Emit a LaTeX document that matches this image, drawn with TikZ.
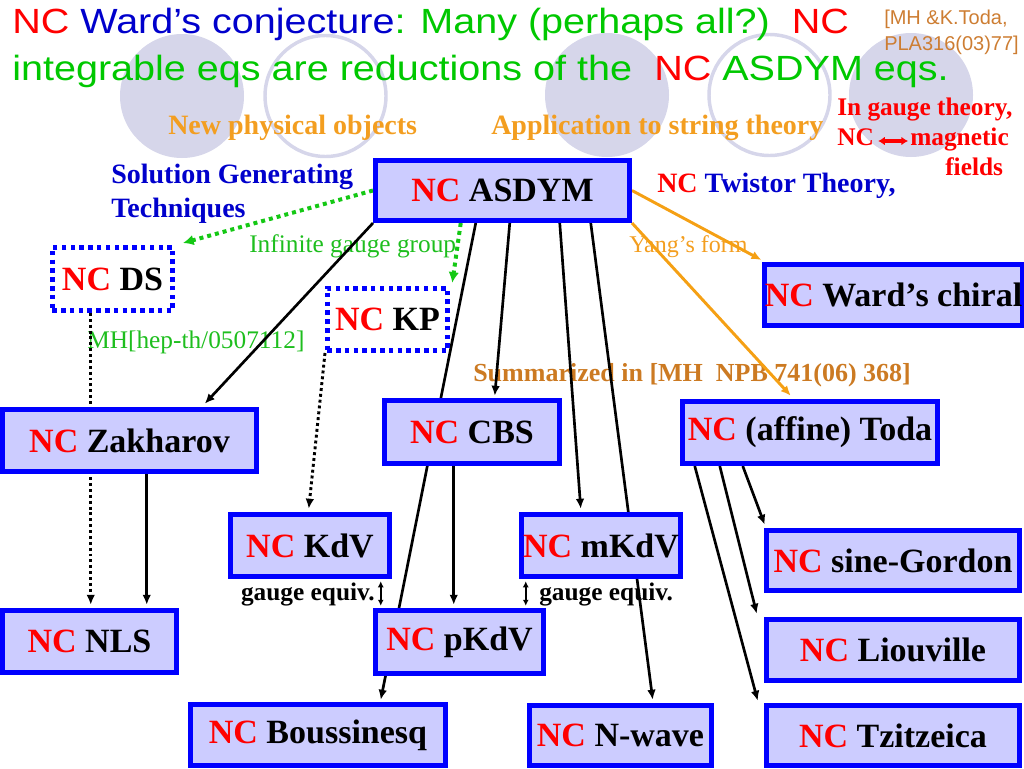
\documentclass[tikz,border=0pt]{standalone}
\usepackage{fontspec}
\setmainfont{Liberation Serif}
\newfontfamily\titlefont{Liberation Sans}[FakeStretch=1.13]
\newfontfamily\citefont{Liberation Sans}
\usetikzlibrary{arrows.meta,calc}
\definecolor{ncred}{RGB}{255,0,0}
\definecolor{tblue}{RGB}{0,0,204}
\definecolor{tgreen}{RGB}{0,200,0}
\definecolor{lgreen}{RGB}{30,190,30}
\definecolor{orangeA}{RGB}{243,158,32}
\definecolor{orangeB}{RGB}{204,122,34}
\definecolor{citec}{RGB}{205,125,50}
\definecolor{boxblue}{RGB}{0,0,255}
\definecolor{boxfill}{RGB}{204,204,255}
\definecolor{circc}{RGB}{214,214,234}
\definecolor{arrorange}{RGB}{245,160,20}
\definecolor{dgreen}{RGB}{20,200,20}
\pgfdeclarelayer{back}
\pgfdeclarelayer{conn}
\pgfsetlayers{back,conn,main}
\newcommand{\NC}{{\color{ncred}NC}}
\begin{document}
\begin{tikzpicture}[x=0.75pt,y=-0.75pt,
  box/.style={draw=boxblue, fill=boxfill, line width=3.4pt, inner sep=0pt,
    font=\fontsize{25.5}{30}\selectfont\bfseries},
  dbox/.style={draw=boxblue, line width=3.4pt, dash pattern=on 3.4pt off 3.2pt, inner sep=0pt,
    font=\fontsize{25.5}{30}\selectfont\bfseries},
  lab/.style={inner sep=0pt, anchor=base west},
  arr/.style={draw=black, line width=2pt, -{Latex[length=7.5pt,width=6.5pt]}},
  dotarr/.style={draw=black, line width=2.2pt, dash pattern=on 2.2pt off 2.2pt, -{Latex[length=7.5pt,width=6.5pt]}},
  grarr/.style={draw=dgreen, line width=3pt, dash pattern=on 3pt off 3pt, -{Latex[length=8pt,width=8pt]}},
  orarr/.style={draw=arrorange, line width=2.2pt, -{Latex[length=7.5pt,width=6.5pt]}},
  gaugearr/.style={draw=black, line width=1.2pt, {Latex[length=4.5pt,width=4.5pt]}-{Latex[length=4.5pt,width=4.5pt]}},
  circfill/.style={fill=circc},
  circline/.style={draw=circc, line width=2.6pt}
]
\useasboundingbox (0,0) rectangle (1024,768);

% ---------- boxes ----------
\node[box, minimum width=190.85pt, minimum height=45.35pt] (asdym) at (502.5,190.5) {\NC\ ASDYM};
\node[dbox, minimum width=90.35pt, minimum height=47.6pt] (ds) at (112.5,279) {\NC\ DS};
\node[dbox, minimum width=90.35pt, minimum height=46.85pt] (kp) at (387.5,319.5) {\NC\ KP};
\node[box, minimum width=189.35pt, minimum height=46.1pt] (ward) at (893.5,295) {\NC\ Ward’s chiral};
\node[box, minimum width=190.85pt, minimum height=46.85pt] (zak) at (129.5,440.5) {\NC\ Zakharov};
\node[box, minimum width=131.6pt, minimum height=47.6pt] (cbs) at (472,432) {\NC\ CBS};
\node[box, minimum width=191.6pt, minimum height=46.85pt] (toda) at (810,432.5) {\NC\ (affine) Toda};
\node[box, minimum width=119.6pt, minimum height=46.85pt] (kdv) at (310,545.5) {\NC\ KdV};
\node[box, minimum width=119.6pt, minimum height=46.85pt] (mkdv) at (601,545.5) {\NC\ mKdV};
\node[box, minimum width=190.1pt, minimum height=45.35pt] (sg) at (893,560.5) {\NC\ sine-Gordon};
\node[box, minimum width=130.85pt, minimum height=46.85pt] (nls) at (89.5,641.5) {\NC\ NLS};
\node[box, minimum width=126.35pt, minimum height=47.6pt] (pkdv) at (459.5,642) {\NC\ pKdV};
\node[box, minimum width=190.1pt, minimum height=46.1pt] (liou) at (893,650) {\NC\ Liouville};
\node[box, minimum width=191.6pt, minimum height=46.1pt] (bous) at (318,735) {\NC\ Boussinesq};
\node[box, minimum width=136.85pt, minimum height=45.35pt] (nwave) at (620.5,735.5) {\NC\ N-wave};
\node[box, minimum width=190.1pt, minimum height=45.35pt] (tzi) at (893,735.5) {\NC\ Tzitzeica};

% ---------- background: circles, title, labels ----------
\begin{pgfonlayer}{back}
\fill[circfill] (182,96) circle[radius=62];
\draw[circline] (325.5,96) circle[radius=60.5];
\fill[circfill] (607,95) circle[radius=62];
\draw[circline] (769.5,95) circle[radius=60.5];
\fill[circfill] (911,95) circle[radius=62];

\node[lab, font=\titlefont\fontsize{26.25}{30}\selectfont] (title1) at (12,33)
  {\color{ncred}NC \color{tblue}Ward’s conjecture\color{tgreen}: Many (perhaps all?)\ \ \color{ncred}NC};
\node[lab, font=\titlefont\fontsize{26.25}{30}\selectfont, text=tgreen] (title2) at (12,80)
  {integrable eqs are reductions of the\ \ \color{ncred}NC\color{tgreen}\ ASDYM eqs.};
\node[lab, font=\citefont\fontsize{15}{18}\selectfont, text=citec] (cite1) at (884,24) {[MH \&K.Toda,};
\node[lab, font=\citefont\fontsize{15}{18}\selectfont, text=citec] (cite2) at (884,50) {PLA316(03)77]};

\node[lab, font=\fontsize{21}{25}\selectfont\bfseries, text=orangeA] (npo) at (168,134) {New physical objects};
\node[lab, font=\fontsize{21}{25}\selectfont\bfseries, text=orangeA] (app) at (491,134) {Application to string theory};
\node[lab, font=\fontsize{19}{23}\selectfont\bfseries, text=ncred] (igt) at (837,115) {In gauge theory,};
\node[lab, font=\fontsize{19}{23}\selectfont\bfseries, text=ncred] (ncm) at (837,145) {NC};
\node[lab, font=\fontsize{19}{23}\selectfont\bfseries, text=ncred] (mag) at (910,145) {magnetic};
\node[lab, font=\fontsize{19}{23}\selectfont\bfseries, text=ncred] (fie) at (945,175) {fields};
\node[lab, font=\fontsize{21}{25}\selectfont\bfseries, text=tblue] (sgt1) at (111,183) {Solution Generating};
\node[lab, font=\fontsize{21}{25}\selectfont\bfseries, text=tblue] (sgt2) at (111,217) {Techniques};
\node[lab, font=\fontsize{21}{25}\selectfont\bfseries, text=tblue] (twi) at (657,192) {\NC\ Twistor Theory,};
\node[lab, font=\fontsize{19}{23}\selectfont, text=lgreen] (igg) at (249,252) {Infinite gauge group};
\node[lab, font=\fontsize{18}{22}\selectfont, text=orangeA] (yang) at (629,252) {Yang’s form};
\node[lab, font=\fontsize{19}{23}\selectfont, text=lgreen] (mhh) at (87,348) {MH[hep-th/0507112]};
\node[lab, font=\fontsize{19.5}{23}\selectfont\bfseries, text=orangeB] (summ) at (473,381) {Summarized in [MH\ \ NPB 741(06) 368]};
\node[inner sep=0pt, anchor=base east, font=\fontsize{19}{23}\selectfont\bfseries] (ge1) at (375,600) {gauge equiv.};
\node[lab, font=\fontsize{19}{23}\selectfont\bfseries] (ge2) at (539,600) {gauge equiv.};
\end{pgfonlayer}

% ---------- connectors ----------
\begin{pgfonlayer}{conn}
\draw[grarr] (asdym.west) -- ($(ds.north east)+(8,-2)$);
\draw[grarr] ($(asdym.south west)+(87.75,0)$) -- ($(kp.north east)+(2.25,-3.25)$);
\draw[arr] (asdym.south west) -- ($(zak.north west)+(204.75,-3.25)$);
\draw[arr] ($(asdym.south west)+(102.75,0)$) -- ($(bous.north west)+(192.75,-2.25)$);
\draw[arr] ($(asdym.south west)+(136.75,0)$) -- ($(cbs.north west)+(112.75,-2.25)$);
\draw[arr] ($(asdym.south west)+(186.75,0)$) -- ($(mkdv.north west)+(61.75,-3.25)$);
\draw[arr] ($(asdym.south west)+(217.75,0)$) -- ($(nwave.north west)+(125.75,-3.25)$);
\draw[orarr] (asdym.east) -- ($(ward.north west)+(-1,-2)$);
\draw[orarr] (asdym.south east) -- ($(toda.north west)+(110.75,-3.25)$);
\draw[dotarr] ($(ds.south west)+(40.75,0)$) -- ($(nls.north west)+(90.75,-3.25)$);
\draw[dotarr] (kp.south west) -- ($(kdv.north west)+(80.75,-3.25)$);
\draw[arr] ($(zak.south west)+(146.75,0)$) -- ($(nls.north west)+(146.75,-3.25)$);
\draw[arr] ($(cbs.south west)+(71.75,0)$) -- ($(pkdv.north west)+(80.75,-3.25)$);
\draw[gaugearr] ($(kdv.south west)+(152.75,2.25)$) -- ($(pkdv.north west)+(7.75,-2.25)$);
\draw[gaugearr] ($(mkdv.south west)+(6.75,2.25)$) -- ($(pkdv.north west)+(152.75,-2.25)$);
\draw[arr] ($(toda.south west)+(62.75,0)$) -- ($(sg.north west)+(0.75,-3.25)$);
\draw[arr] ($(toda.south west)+(39.75,0)$) -- ($(liou.north west)+(-7.25,-3.25)$);
\draw[arr] ($(toda.south west)+(14.75,0)$) -- ($(tzi.north west)+(-6.25,-2.25)$);
\draw[draw=ncred, line width=2.4pt, {Latex[length=5pt,width=6.5pt]}-{Latex[length=5pt,width=6.5pt]}]
  ($(ncm.base east)+(4,-4)$) -- ($(mag.base west)+(-2,-4)$);
\end{pgfonlayer}
\end{tikzpicture}
\end{document}
